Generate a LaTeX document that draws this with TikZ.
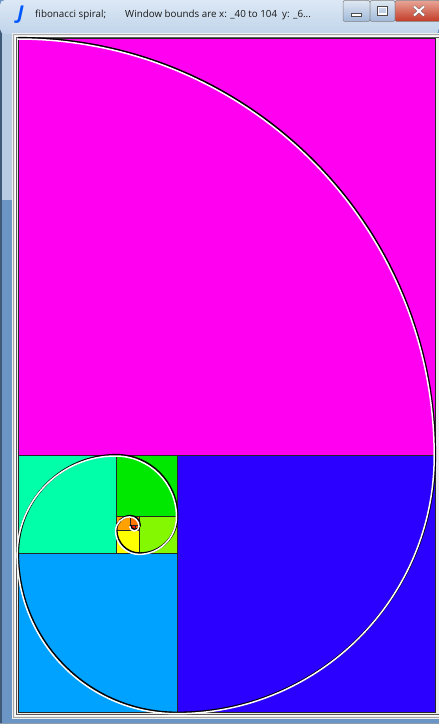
\documentclass[tikz,border=0pt]{standalone}
\usepackage{fontspec}
\setmainfont{Open Sans}
\definecolor{cMag}{HTML}{FF00F0}
\definecolor{cBlue}{HTML}{2B00FF}
\definecolor{cSky}{HTML}{00A2FF}
\definecolor{cAqua}{HTML}{00FFA8}
\definecolor{cGreen}{HTML}{00E800}
\definecolor{cLime}{HTML}{84F800}
\definecolor{cYel}{HTML}{FFFF00}
\definecolor{cOrg}{HTML}{FFA200}
\definecolor{cOrgB}{HTML}{FF7400}
\definecolor{cRedA}{HTML}{FF4400}
\definecolor{cRedB}{HTML}{FF1200}
\definecolor{frameLt}{HTML}{B7CDE4}
\definecolor{frameDk}{HTML}{6A95C4}
\definecolor{frameEdge}{HTML}{3E5A78}
\definecolor{titleTop}{HTML}{DCE8F5}
\definecolor{titleBot}{HTML}{C0D4EA}
\definecolor{btnTop}{HTML}{DFE8F2}
\definecolor{btnBot}{HTML}{9FB9D8}
\definecolor{closeTop}{HTML}{E8A596}
\definecolor{closeBot}{HTML}{C23A26}
\definecolor{panel}{HTML}{EEEEEE}
\begin{document}
\begin{tikzpicture}[x=1pt, y=1pt,
    sq/.style={draw=black!85, line width=0.7pt},
    btn/.style={draw=black!50, line width=0.5pt, rounded corners=2pt, minimum height=21pt, inner sep=0pt},
    ttl/.style={anchor=west, inner sep=0pt, font=\fontsize{9.8}{11}\selectfont, text=black!90}]
    \useasboundingbox (0,0) rectangle (439,724);

    % window frame
    \fill[frameDk] (0,0) rectangle (439,724);
    \fill[frameLt] (0,524) rectangle (12,700);
    \fill[frameEdge] (0,0) rectangle (1.5,718);
    \shade[top color=titleTop, bottom color=titleBot, rounded corners=5pt] (0,690) rectangle (439,724);
    \fill[frameEdge!60] (0,0) rectangle (439,1.2);

    % client border
    \fill[panel] (12,5) rectangle (439,691);
    \draw[gray!70, line width=1pt] (13.5,6.5) rectangle (445,689.5);
    \draw[white, line width=1pt] (15.2,8.2) rectangle (445,687.8);
    \draw[black!65, line width=1pt] (16.8,9.8) rectangle (445,686.2);

    % title bar
    \node[text=blue!65!cyan, font=\fontsize{19}{19}\selectfont\bfseries\itshape] (appicon) at (20.5,709) {J};
    \node[ttl] (ttlA) at (35,709) {fibonacci spiral;};
    \node[ttl] (ttlB) at (125,709) {Window bounds are x: \_40 to 104};
    \node[ttl] (ttlC) at (282,709) {y: \_6...};

    \node[btn, top color=btnTop, bottom color=btnBot, minimum width=27pt] (minbtn) at (356.5,713) {};
    \node[btn, top color=btnTop, bottom color=btnBot, minimum width=25pt] (maxbtn) at (382.5,713) {};
    \node[btn, top color=closeTop, bottom color=closeBot, minimum width=48pt] (closebtn) at (419,713) {};
    \filldraw[fill=white, draw=black!70, line width=0.5pt] ([xshift=-5pt,yshift=-5pt]minbtn.center) rectangle ([xshift=5pt,yshift=-2pt]minbtn.center);
    \draw[white, line width=1.6pt] ([xshift=-4pt,yshift=-3pt]maxbtn.center) rectangle ([xshift=4pt,yshift=3.5pt]maxbtn.center);
    \draw[black!70, line width=0.5pt] ([xshift=-5pt,yshift=-4pt]maxbtn.center) rectangle ([xshift=5pt,yshift=4.5pt]maxbtn.center);
    \draw[black!60, line width=3pt] ([xshift=-5pt,yshift=-4.5pt]closebtn.center) -- ([xshift=5pt,yshift=4.5pt]closebtn.center)
        ([xshift=-5pt,yshift=4.5pt]closebtn.center) -- ([xshift=5pt,yshift=-4.5pt]closebtn.center);
    \draw[white, line width=2pt] ([xshift=-5pt,yshift=-4.5pt]closebtn.center) -- ([xshift=5pt,yshift=4.5pt]closebtn.center)
        ([xshift=-5pt,yshift=4.5pt]closebtn.center) -- ([xshift=5pt,yshift=-4.5pt]closebtn.center);

    % fibonacci squares and spiral
    \begin{scope}[shift={(18,11.3)}, x=4.6854pt, y=4.6854pt]
        \filldraw[sq, fill=cMag] (0,55) rectangle (89,144);
        \filldraw[sq, fill=cBlue] (34,0) rectangle (89,55);
        \filldraw[sq, fill=cSky] (0,0) rectangle (34,34);
        \filldraw[sq, fill=cAqua] (0,34) rectangle (21,55);
        \filldraw[sq, fill=cGreen] (21,42) rectangle (34,55);
        \filldraw[sq, fill=cLime] (26,34) rectangle (34,42);
        \filldraw[sq, fill=cYel] (21,34) rectangle (26,39);
        \filldraw[sq, fill=cOrg] (21,39) rectangle (24,42);
        \filldraw[sq, fill=cOrgB] (24,40) rectangle (26,42);
        \filldraw[sq, fill=cRedA] (25,39) rectangle (26,40);
        \filldraw[sq, fill=cRedB] (24,39) rectangle (25,40);

        \draw[black, line width=2.2pt] (0,144)
            arc[start angle=90, end angle=0, radius=89]
            arc[start angle=0, end angle=-90, radius=55]
            arc[start angle=-90, end angle=-180, radius=34]
            arc[start angle=180, end angle=90, radius=21]
            arc[start angle=90, end angle=0, radius=13]
            arc[start angle=0, end angle=-90, radius=8]
            arc[start angle=-90, end angle=-180, radius=5]
            arc[start angle=180, end angle=90, radius=3]
            arc[start angle=90, end angle=0, radius=2]
            arc[start angle=0, end angle=-90, radius=1]
            arc[start angle=-90, end angle=-180, radius=1];
        \draw[white, line width=1.5pt, xshift=-0.8pt, yshift=-1pt] (0,144)
            arc[start angle=90, end angle=0, radius=89]
            arc[start angle=0, end angle=-90, radius=55]
            arc[start angle=-90, end angle=-180, radius=34]
            arc[start angle=180, end angle=90, radius=21]
            arc[start angle=90, end angle=0, radius=13]
            arc[start angle=0, end angle=-90, radius=8]
            arc[start angle=-90, end angle=-180, radius=5]
            arc[start angle=180, end angle=90, radius=3]
            arc[start angle=90, end angle=0, radius=2]
            arc[start angle=0, end angle=-90, radius=1]
            arc[start angle=-90, end angle=-180, radius=1];
    \end{scope}
\end{tikzpicture}
\end{document}
